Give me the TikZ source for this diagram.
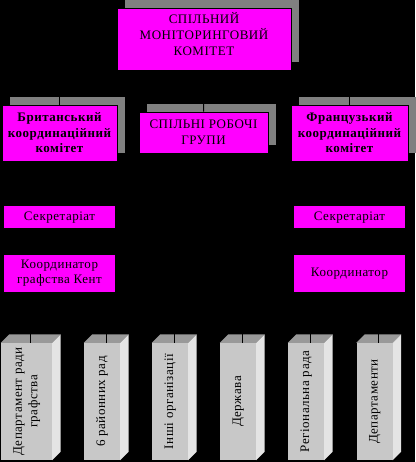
\documentclass[tikz,border=0pt]{standalone}
\usepackage{fontspec}
\setmainfont{Liberation Serif}[LetterSpace=4]
\usepackage{graphicx}
\usetikzlibrary{positioning, calc, backgrounds}
\definecolor{boxfill}{HTML}{FF00FF}
\definecolor{shadowgray}{HTML}{808080}
\definecolor{colfront}{HTML}{C8C8C8}
\definecolor{coltop}{HTML}{999999}
\definecolor{colside}{HTML}{E4E4E4}
\newcommand{\coltext}[1]{\rotatebox{90}{\begin{tabular}{@{}c@{}}#1\end{tabular}}}

\begin{document}
\begin{tikzpicture}[
  x=1pt, y=-1pt,
  font=\fontsize{13}{15.5}\selectfont,
  box/.style={rectangle, draw=black, line width=0.6pt, fill=boxfill,
              text=black, align=center, inner sep=2pt},
  side/.style={box, minimum width=115pt, minimum height=56pt, font=\fontsize{13}{15.5}\selectfont\bfseries},
  small/.style={box, minimum width=112pt, minimum height=23pt},
  coord/.style={box, minimum width=112pt, minimum height=38pt},
  col/.style={rectangle, fill=colfront, minimum height=117pt, minimum width=36pt, inner sep=0pt},
  shade/.style={fill=shadowgray},
  conn/.style={draw=black, line width=1pt}
]
  \useasboundingbox (0,0) rectangle (415,462);

  % top level
  \node[box, minimum width=174pt, minimum height=62pt, text depth=10pt,
        font=\fontsize{13}{16}\selectfont] (top) at (204,39)
    {СПІЛЬНИЙ\\МОНІТОРИНГОВИЙ\\КОМІТЕТ};

  \node[side] (brit) at (59.5,133) {Британський\\координаційний\\комітет};
  \node[box, minimum width=129pt, minimum height=41pt, font=\fontsize{13}{16}\selectfont] (spil) at (203.5,132.5)
    {СПІЛЬНІ РОБОЧІ\\ГРУПИ};
  \node[side, minimum width=117pt] (fran) at (349.5,133) {Французький\\координаційний\\комітет};

  \node[small, below=44pt of brit] (sekrL) {Секретаріат};
  \node[coord, below=25pt of sekrL] (koordL) {Координатор\\графства Кент};
  \node[small, below=44pt of fran] (sekrR) {Секретаріат};
  \node[coord, below=25pt of sekrR] (koordR) {Координатор};

  % bottom columns
  \node[col, minimum width=51pt] (d1) at (26.5,401.5) {\coltext{Департамент ради\\графства}};
  \node[col] (d2) at (102,401.5) {\coltext{6 районних рад}};
  \node[col] (d3) at (170,401.5) {\coltext{Інші організації}};
  \node[col] (d4) at (238,401.5) {\coltext{Держава}};
  \node[col] (d5) at (306,401.5) {\coltext{Регіональна рада}};
  \node[col] (d6) at (374.5,401.5) {\coltext{Департаменти}};

  \coordinate (bus) at (204,318);

  \begin{pgfonlayer}{background}
    \fill[black] (0,0) rectangle (415,462);
    % shadows
    \foreach \b in {top, brit, spil, fran}
      \fill[shade] ($(\b.south west)+(8,-8)$) rectangle ($(\b.north east)+(8,-8)$);
    % column faces
    \foreach \c in {d1, d2, d3, d4, d5, d6} {
      \fill[coltop] (\c.north west) -- ++(8.5,-8.5) -- ($(\c.north east)+(8.5,-8.5)$) -- (\c.north east) -- cycle;
      \fill[colside] (\c.north east) -- ++(8.5,-8.5) -- ($(\c.south east)+(8.5,-8.5)$) -- (\c.south east) -- cycle;
      \coordinate (\c-t) at ($(\c.north)+(4.25,0)$);
      \draw[conn] (\c-t |- bus) -- (\c-t);
    }
    % connectors
    \draw[conn] (top) -- (spil);
    \draw[conn] (top.south) -- ++(0,14) -| (brit.north);
    \draw[conn] (top.south) -- ++(0,14) -| (fran.north);
  \end{pgfonlayer}
\end{tikzpicture}
\end{document}
